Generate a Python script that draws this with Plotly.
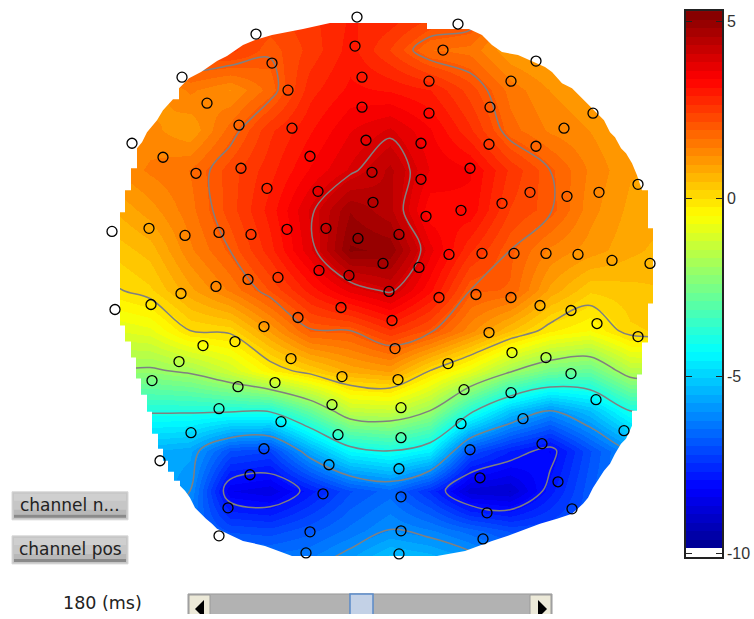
import numpy as np
import plotly.graph_objects as go

grid_x = [110, 150, 190, 230, 270, 310, 350, 390, 430, 470, 510, 550, 590, 630, 670]
grid_y = [10, 50, 90, 130, 170, 210, 250, 290, 330, 370, 410, 450, 490, 530, 570]
grid_z = [
    [2.0, 2.2, 2.5, 2.5, 2.4, 2.6, 2.9, 2.9, 2.6, 2.4, 1.2, 1.0, 1.0, 1.0, 1.0],
    [1.4, 2.0, 2.5, 2.5, 2.05, 2.5, 3.0, 2.4, 1.7, 1.6, 1.0, 0.8, 0.8, 0.8, 0.8],
    [1.0, 1.0, 1.5, 1.2, 1.8, 2.8, 3.2, 3.1, 2.9, 2.3, 1.6, 1.2, 1.0, 0.9, 0.9],
    [1.0, 1.3, 1.0, 1.8, 2.6, 3.1, 3.6, 3.9, 3.4, 2.7, 1.8, 1.4, 1.2, 0.9, 0.9],
    [1.2, 1.5, 1.7, 2.3, 2.8, 3.4, 3.9, 4.4, 3.6, 3.4, 2.6, 2.0, 1.4, 1.0, 0.9],
    [0.7, 1.1, 1.6, 2.3, 3.0, 3.9, 4.8, 4.4, 3.2, 3.3, 2.4, 2.05, 1.3, 0.9, 0.8],
    [0.3, 0.6, 1.4, 2.0, 2.8, 3.8, 5.1, 5.0, 3.7, 2.7, 2.0, 1.4, 1.1, 0.8, 0.6],
    [-0.1, 0.2, 0.9, 1.5, 2.2, 3.0, 3.7, 4.1, 3.2, 2.0, 1.9, 0.9, 0.3, 0.4, 0.5],
    [-1.0, -0.8, 0.0, 0.1, 1.0, 1.95, 2.0, 2.6, 2.1, 1.3, 0.5, -0.2, -0.5, 0.2, 0.3],
    [-2.0, -2.1, -1.85, -1.2, -0.3, 0.25, 0.8, 1.0, 0.0, -0.8, -1.9, -2.6, -2.8, -1.6, -1.5],
    [-4.0, -3.9, -3.9, -3.9, -3.9, -2.8, -1.4, -1.3, -2.0, -3.8, -5.2, -6.0, -5.3, -4.0, -3.8],
    [-6.0, -5.5, -5.7, -7.0, -7.2, -5.6, -4.3, -4.0, -4.5, -7.0, -7.7, -8.2, -7.0, -6.0, -6.0],
    [-6.0, -5.5, -6.0, -8.4, -8.6, -7.8, -7.0, -6.6, -7.5, -8.8, -8.9, -7.8, -6.8, -6.0, -6.0],
    [-6.0, -6.0, -6.5, -7.0, -7.1, -6.8, -6.4, -5.98, -6.2, -6.6, -7.0, -7.0, -6.8, -6.0, -6.0],
    [-6.0, -6.0, -6.0, -6.0, -6.0, -6.0, -5.5, -4.8, -5.0, -5.4, -6.0, -6.0, -6.0, -6.0, -6.0],
]

# --- sensor positions
channel_x = [357, 355, 256, 272, 362, 182, 288, 207, 362, 239, 292, 132, 366, 163, 310, 241, 196, 372, 267, 318,
             373, 112, 149, 185, 219, 251, 287, 326, 358, 248, 278, 319, 349, 383,
             458, 443, 536, 429, 511, 490, 429, 593, 564, 421, 489, 536, 470, 421, 638, 530, 567, 599, 502, 461,
             426, 399, 449, 482, 514, 546, 578, 612, 650, 419,
             216, 181, 151, 115, 341, 298, 264, 203, 235, 291, 179, 342, 152, 275, 238, 332, 219, 281, 191, 338,
             264, 160, 329, 250, 323, 228, 310, 219, 306,
             389, 439, 476, 511, 540, 571, 597, 392, 489, 638, 395, 512, 448, 546, 571, 398, 464, 511, 596, 401,
             523, 461, 624, 401, 542, 470, 399, 480, 558, 401, 487, 572, 401, 483, 399]
channel_y = [17, 46, 34, 63, 77, 77, 90, 103, 107, 125, 128, 143, 140, 157, 156, 168, 173, 172, 188, 191,
             202, 231, 228, 235, 232, 234, 229, 228, 238, 279, 277, 270, 275, 263,
             24, 50, 61, 81, 81, 107, 113, 113, 128, 143, 144, 146, 168, 179, 184, 192, 196, 192, 203, 210,
             216, 234, 254, 253, 253, 253, 254, 260, 263, 267,
             286, 293, 304, 309, 307, 317, 326, 345, 341, 358, 361, 376, 380, 382, 386, 404, 408, 421, 432, 434,
             448, 460, 464, 474, 493, 507, 531, 535, 552,
             291, 297, 294, 297, 305, 310, 323, 320, 332, 336, 348, 352, 363, 357, 373, 379, 389, 392, 399, 407,
             418, 423, 430, 437, 443, 449, 468, 477, 481, 496, 512, 508, 530, 538, 553]

# --- head outline (clockwise from the top), used to blank everything outside the map
head_x = [330, 427, 427, 469, 482, 492, 502, 518, 545, 552, 557, 562, 572, 577, 583, 599, 604, 610, 615, 621,
          626, 632, 637, 642, 648, 648, 653, 653, 648, 648, 642, 642, 637, 637, 632, 632, 626, 621, 615, 610,
          604, 593, 588, 583, 572, 557, 540, 508, 492, 465, 437, 292, 265, 243, 217, 212, 206, 200, 195, 190,
          185, 180, 180, 174, 174, 168, 168, 163, 163, 158, 158, 152, 152, 147, 147, 141, 141, 136, 136, 131,
          131, 125, 125, 120, 120, 125, 125, 131, 131, 137, 137, 142, 147, 152, 157, 163, 168, 173, 179, 179,
          189, 201, 217, 227, 243, 255, 272, 303, 330]
head_y = [23, 23, 29, 29, 35, 45, 52, 55, 67, 72, 78, 83, 88, 93, 99, 115, 120, 132, 137, 148,
          153, 163, 175, 190, 190, 228, 228, 303, 303, 342, 342, 374, 374, 410, 410, 425, 438, 443, 453, 463,
          470, 487, 497, 503, 513, 518, 523, 535, 540, 550, 555, 555, 545, 540, 528, 523, 518, 512, 507, 497,
          490, 485, 480, 480, 471, 471, 460, 460, 448, 448, 433, 433, 411, 411, 394, 394, 378, 378, 357, 357,
          341, 341, 325, 325, 212, 212, 190, 190, 168, 168, 148, 142, 132, 126, 120, 110, 104, 99, 99, 88,
          78, 72, 61, 56, 45, 40, 35, 29, 23]

# --- colour scale limits and labels
color_min, color_max = -10.1, 5.3
contour_levels = dict(start=-8, end=4, size=2)
cbar_ticks = [5, 0, -5, -10]
cbar_labels = ["5", "0", "-5", "-10"]
button_labels = ["channel n...", "channel pos"]
time_label = "180 (ms)"


def jet(t):
    stops = [0, .125, .375, .625, .875, 1]
    r = np.interp(t, stops, [0, 0, 0, 1, 1, .5])
    g = np.interp(t, stops, [0, 0, 1, 1, 0, 0])
    b = np.interp(t, stops, [.5, 1, 1, 0, 0, 0])
    return f"rgb({int(r*255)},{int(g*255)},{int(b*255)})"


n_colors = 64
colorscale = []
for i in range(n_colors):
    c = "rgb(255,255,255)" if i == 0 else jet((i + .5) / n_colors)
    colorscale += [[i / n_colors, c], [(i + 1) / n_colors, c]]
cbar_levels = color_min + (np.arange(n_colors) + .5) * (color_max - color_min) / n_colors

fig = go.Figure()
fig.add_trace(go.Heatmap(x=grid_x, y=grid_y, z=grid_z, zsmooth="best", coloraxis="coloraxis", hoverinfo="skip"))
fig.add_trace(go.Contour(x=grid_x, y=grid_y, z=grid_z, autocontour=False, contours=dict(coloring="none", showlabels=False, **contour_levels),
                         line=dict(color="#808080", width=1.5), showscale=False, hoverinfo="skip"))
# white surround with the head as a hole
frame_x = [85, 85, 695, 695, 85]
frame_y = [-15, 596, 596, -15, -15]
fig.add_trace(go.Scatter(x=frame_x + head_x + [frame_x[0]], y=frame_y + head_y + [frame_y[0]], mode="lines",
                         fill="toself", fillcolor="white", line=dict(width=0, color="white"), hoverinfo="skip"))
fig.add_trace(go.Scatter(x=channel_x, y=channel_y, mode="markers", hoverinfo="skip",
                         marker=dict(symbol="circle-open", size=10, color="black", line=dict(width=1.3, color="black"))))
fig.add_trace(go.Heatmap(x=[0], y=cbar_levels, z=[[v] for v in cbar_levels], xaxis="x2", yaxis="y2",
                         coloraxis="coloraxis", hoverinfo="skip"))

W, H = 754, 619
Hy = 613  # vertical extent of the drawing as photographed
shapes = []
def rect(x0, y0, x1, y1, fill, line=None, width=1):
    shapes.append(dict(type="rect", xref="x", yref="y", x0=x0, y0=y0, x1=x1, y1=y1, fillcolor=fill,
                       line=dict(color=line or fill, width=width if line else 0), layer="above"))

annotations = []
for (y0, y1), label in zip([(491, 519), (535, 563)], button_labels):
    rect(12, y0, 128, y1, "#c6c6c6", "#d8d8d8", 1)
    rect(14, y0 + 2, 126, y0 + 9, "#cfcfcf")
    rect(14, y0 + 18, 126, y1 - 5, "#b8b8b8")
    rect(14, y1 - 5, 126, y1 - 2, "#8a8a8a")
    annotations.append(dict(x=70, y=(y0 + y1) / 2 - 1, xref="x", yref="y", text=label, showarrow=False,
                            font=dict(family="DejaVu Sans", size=17, color="#222222")))
annotations.append(dict(x=102, y=602, xref="x", yref="y", text=time_label, showarrow=False,
                        font=dict(family="DejaVu Sans", size=17.5, color="#222222")))

rect(188, 593, 552, 630, "#b2b2b2", "#9a9a9a", 1)
rect(189, 594, 210, 630, "#ece9d8", "#9a9a9a", 1)
rect(530, 594, 551, 630, "#ece9d8", "#9a9a9a", 1)
rect(350, 593, 373, 630, "#c3d1e6", "#5b8bc9", 1.5)
shapes.append(dict(type="path", xref="x", yref="y", path="M 204 599 L 204 617 L 195 608 Z", fillcolor="black", line=dict(width=0), layer="above"))
shapes.append(dict(type="path", xref="x", yref="y", path="M 538 599 L 538 617 L 547 608 Z", fillcolor="black", line=dict(width=0), layer="above"))

fig.update_layout(
    width=W, height=H, margin=dict(l=0, r=0, t=0, b=0), paper_bgcolor="white", plot_bgcolor="white",
    showlegend=False, shapes=shapes, annotations=annotations,
    coloraxis=dict(colorscale=colorscale, cmin=color_min, cmax=color_max, showscale=False),
    xaxis=dict(range=[0, W], domain=[0, 1], visible=False, fixedrange=True),
    yaxis=dict(range=[Hy, 0], domain=[0, 1], visible=False, fixedrange=True),
    xaxis2=dict(domain=[686 / W, 722 / W], anchor="y2", showticklabels=False, ticks="", showgrid=False, zeroline=False,
                showline=True, mirror=True, linecolor="#222222", linewidth=1.5, range=[-.5, .5], fixedrange=True),
    yaxis2=dict(domain=[1 - 556 / Hy, 1 - 11 / Hy], anchor="x2", side="right", range=[color_min, color_max],
                tickvals=cbar_ticks, ticktext=cbar_labels, ticks="inside", ticklen=6, tickcolor="#222222", tickwidth=1.2,
                mirror="ticks", showgrid=False, zeroline=False, showline=True, linecolor="#222222", linewidth=1.5,
                tickfont=dict(family="Liberation Sans", size=16, color="#333333"), fixedrange=True),
)
fig.write_html("out.html", config=dict(displayModeBar=False),
               post_script="document.body.style.margin='0';document.body.style.overflow='hidden';")
